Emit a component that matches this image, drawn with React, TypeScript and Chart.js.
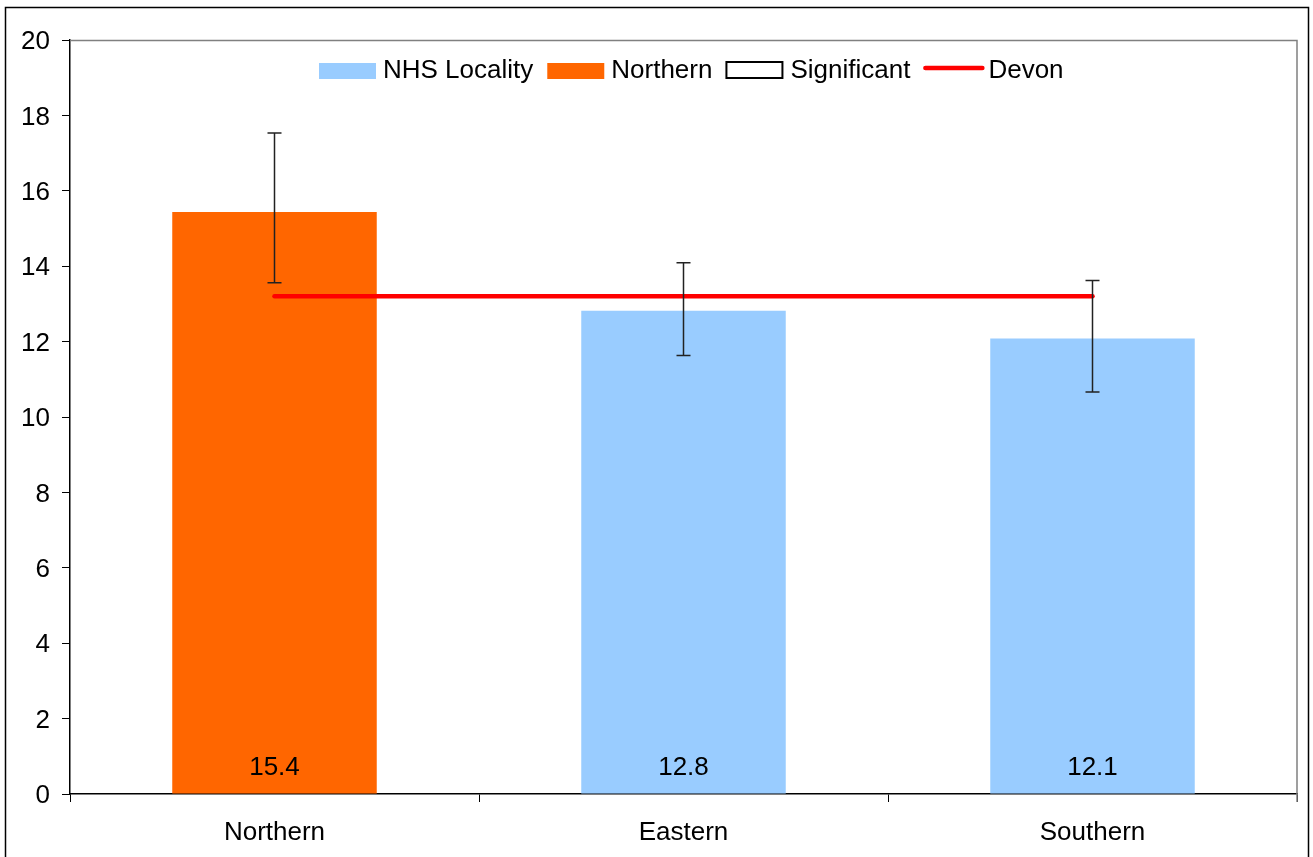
import React, { useEffect, useRef } from "react";
import { Chart, registerables } from "chart.js";

Chart.register(...registerables);

const categories = ["Northern", "Eastern", "Southern"];
const values = [15.44, 12.82, 12.08];
const errLow = [13.56, 11.63, 10.66];
const errHigh = [17.53, 14.09, 13.62];
const devon = [13.2, 13.2, 13.2];
const legendLabels = ["NHS Locality", "Northern", "Significant", "Devon"];
const yMin = 0;
const yMax = 20;
const yStep = 2;

const FONT = "'Liberation Sans', Arial, sans-serif";
const FS = 26;
const ORANGE = "#FF6600";
const BLUE = "#99CCFF";

const decorPlugin = {
  id: "decor",
  afterDatasetsDraw(chart: any) {
    const ctx = chart.ctx;
    const x = chart.scales.x;
    const y = chart.scales.y;
    const ca = chart.chartArea;
    ctx.save();
    // plot area top and right border
    ctx.strokeStyle = "#808080";
    ctx.lineWidth = 1.5;
    ctx.beginPath();
    ctx.moveTo(ca.left, ca.top + 0.5);
    ctx.lineTo(ca.right, ca.top + 0.5);
    ctx.lineTo(ca.right, ca.bottom + 8);
    ctx.stroke();
    // error bars
    ctx.strokeStyle = "#222";
    ctx.lineWidth = 1.5;
    for (let i = 0; i < categories.length; i++) {
      const cx = x.getPixelForValue(i);
      const yl = y.getPixelForValue(errLow[i]);
      const yh = y.getPixelForValue(errHigh[i]);
      ctx.beginPath();
      ctx.moveTo(cx, yl);
      ctx.lineTo(cx, yh);
      ctx.moveTo(cx - 7, yl);
      ctx.lineTo(cx + 7, yl);
      ctx.moveTo(cx - 7, yh);
      ctx.lineTo(cx + 7, yh);
      ctx.stroke();
    }
    // value labels
    ctx.fillStyle = "#000";
    ctx.font = `${FS}px ${FONT}`;
    ctx.textAlign = "center";
    ctx.textBaseline = "middle";
    for (let i = 0; i < categories.length; i++) {
      const cx = x.getPixelForValue(i);
      ctx.fillText(values[i].toFixed(1), cx, ca.bottom - 26);
    }
    // legend
    let lx = 319;
    const ly = 70;
    ctx.textAlign = "left";
    for (let i = 0; i < legendLabels.length; i++) {
      if (i === 0 || i === 1) {
        ctx.fillStyle = i === 0 ? BLUE : ORANGE;
        ctx.fillRect(lx, ly - 7, 57, 16);
      } else if (i === 2) {
        ctx.fillStyle = "#fff";
        ctx.fillRect(lx, ly - 8, 56, 16);
        ctx.strokeStyle = "#000";
        ctx.lineWidth = 2;
        ctx.strokeRect(lx, ly - 8, 56, 16);
      } else {
        ctx.strokeStyle = "#FF0000";
        ctx.lineWidth = 4.5;
        ctx.lineCap = "round";
        ctx.beginPath();
        ctx.moveTo(lx + 1, ly - 2);
        ctx.lineTo(lx + 58, ly - 2);
        ctx.stroke();
      }
      ctx.fillStyle = "#000";
      ctx.fillText(legendLabels[i], lx + 64, ly + 1);
      lx += 64 + ctx.measureText(legendLabels[i]).width + 14;
    }
    // outer frame
    ctx.strokeStyle = "#000";
    ctx.lineWidth = 1.5;
    ctx.strokeRect(5.5, 7.5, 1303, 880);
    ctx.restore();
  },
};

export default function App() {
  const ref = useRef<HTMLCanvasElement>(null);
  useEffect(() => {
    document.body.style.margin = "0";
    const canvas = ref.current!;
    const chart = new Chart(canvas, {
      data: {
        labels: categories,
        datasets: [
          {
            type: "line",
            label: "Devon",
            data: devon,
            borderColor: "#FF0000",
            borderWidth: 4.5,
            borderCapStyle: "round",
            pointRadius: 0,
            order: 0,
          } as any,
          {
            type: "bar",
            label: "NHS Locality",
            data: values,
            backgroundColor: [ORANGE, BLUE, BLUE],
            categoryPercentage: 1,
            barPercentage: 0.5,
            order: 1,
          } as any,
        ],
      },
      options: {
        responsive: false,
        animation: false,
        devicePixelRatio: 1,
        layout: { padding: { left: 0, top: 40, right: 16, bottom: 0 } },
        plugins: { legend: { display: false }, tooltip: { enabled: false } },
        scales: {
          x: {
            type: "category",
            offset: true,
            grid: { offset: true, drawOnChartArea: false, tickLength: 8, color: "#000", lineWidth: 1 },
            border: { color: "#000", width: 1.5 },
            ticks: { color: "#000", font: { family: FONT, size: FS }, padding: 15 },
            afterFit(scale: any) {
              scale.height = 63;
            },
          },
          y: {
            min: yMin,
            max: yMax,
            ticks: { stepSize: yStep, color: "#000", font: { family: FONT, size: FS }, padding: 12, labelOffset: 2 },
            grid: { drawOnChartArea: false, tickLength: 8, color: "#000", lineWidth: 1 },
            border: { color: "#000", width: 1.5 },
            afterFit(scale: any) {
              scale.width = 70;
            },
          },
        },
      } as any,
      plugins: [decorPlugin],
    });
    return () => chart.destroy();
  }, []);
  return (
    <div style={{ width: 1313, height: 857 }}>
      <canvas ref={ref} width={1313} height={857} style={{ display: "block" }} />
    </div>
  );
}
